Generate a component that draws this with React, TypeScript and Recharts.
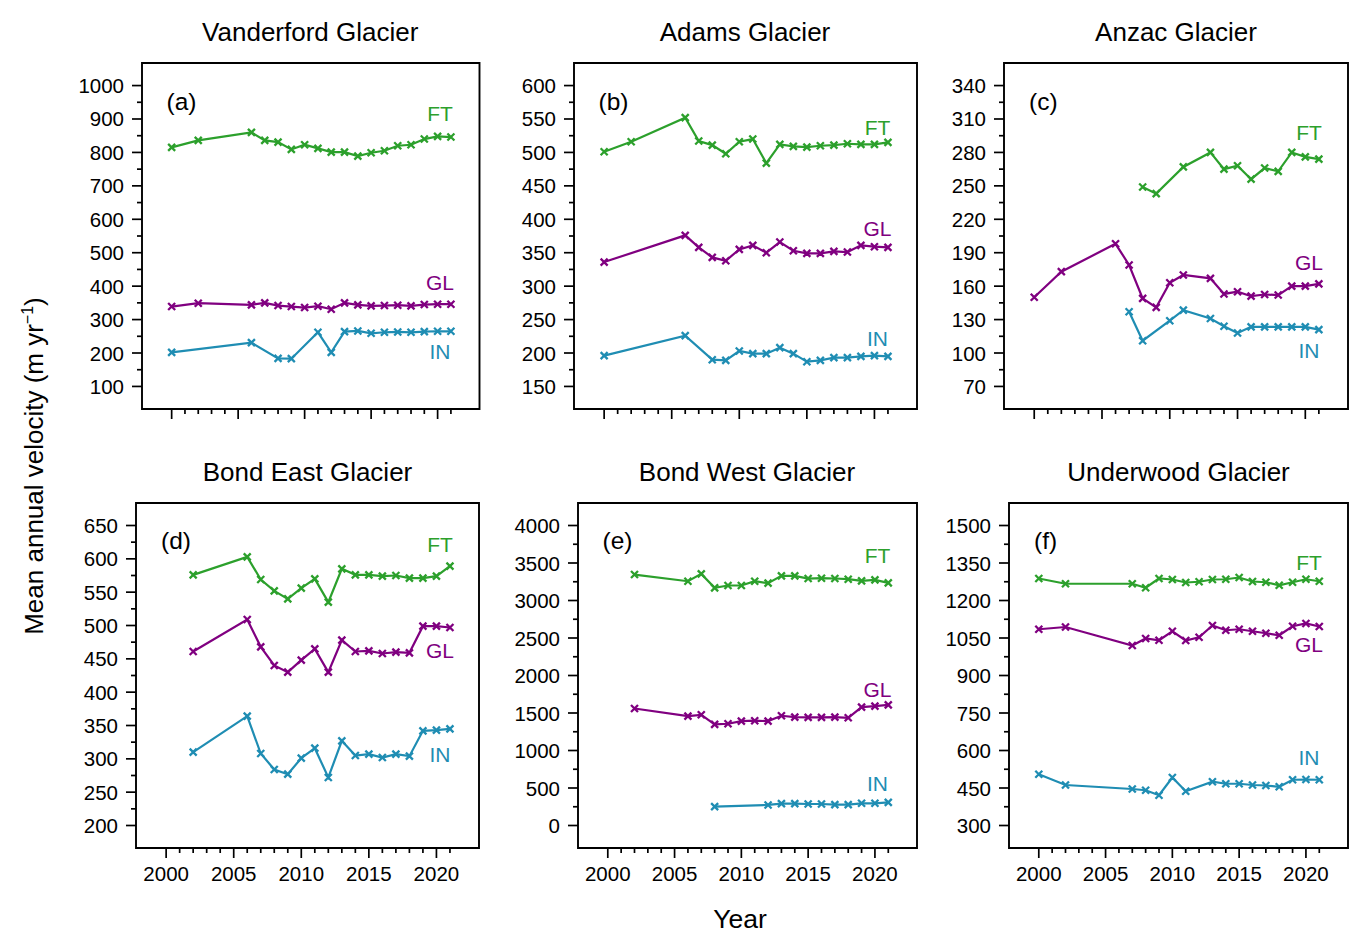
import React from 'react';
import { LineChart, Line, XAxis, YAxis, ReferenceArea } from 'recharts';

// ---------- DATA ----------
const YEARS = [2000, 2001, 2002, 2003, 2004, 2005, 2006, 2007, 2008, 2009, 2010, 2011, 2012, 2013, 2014, 2015, 2016, 2017, 2018, 2019, 2020, 2021];
const X_TICKS = [2000, 2001, 2002, 2003, 2004, 2005, 2006, 2007, 2008, 2009, 2010, 2011, 2012, 2013, 2014, 2015, 2016, 2017, 2018, 2019, 2020, 2021];
const X_MAJOR = [2000, 2005, 2010, 2015, 2020];
const X_DOMAIN = [1997.77, 2023.15];

// (a) Vanderford Glacier
const vanderfordFT = [815, null, 836, null, null, null, 860, 836, 831, 809, 823, 812, 801, 801, 789, 799, 805, 820, 823, 840, 848, 846];
const vanderfordGL = [339, null, 349, null, null, null, 344, 350, 342, 339, 336, 340, 331, 350, 344, 341, 342, 343, 341, 345, 346, 346];
const vanderfordIN = [202, null, null, null, null, null, 231, null, 184, 183, null, 262, 202, 264, 266, 259, 262, 263, 262, 264, 265, 265];
const vanderfordMajor = [100, 200, 300, 400, 500, 600, 700, 800, 900, 1000];
const vanderfordMinor = [150, 250, 350, 450, 550, 650, 750, 850, 950];

// (b) Adams Glacier
const adamsFT = [501, null, 516, null, null, null, 552, 517, 511, 498, 516, 520, 484, 512, 509, 508, 510, 511, 513, 512, 512, 515];
const adamsGL = [336, null, null, null, null, null, 376, 358, 343, 338, 355, 361, 350, 366, 353, 349, 349, 352, 351, 361, 359, 358];
const adamsIN = [196, null, null, null, null, null, 226, null, 190, 189, 203, 199, 199, 208, 199, 187, 189, 193, 193, 195, 196, 195];
const adamsMajor = [150, 200, 250, 300, 350, 400, 450, 500, 550, 600];
const adamsMinor = [175, 225, 275, 325, 375, 425, 475, 525, 575];

// (c) Anzac Glacier
const anzacFT = [null, null, null, null, null, null, null, null, 249, 243, null, 267, null, 280, 265, 268, 256, 266, 263, 280, 276, 274];
const anzacGL = [150, null, 173, null, null, null, 198, 179, 149, 141, 163, 170, null, 167, 153, 155, 151, 152.5, 152, 160, 160, 162];
const anzacIN = [null, null, null, null, null, null, null, 137, 111, null, 129, 138.5, null, 131, 124, 118, 123.5, 123.5, 123.5, 123.5, 123.5, 121];
const anzacMajor = [70, 100, 130, 160, 190, 220, 250, 280, 310, 340];
const anzacMinor = [85, 115, 145, 175, 205, 235, 265, 295, 325];

// (d) Bond East Glacier
const bondEastFT = [null, null, 576, null, null, null, 603, 569, 552, 540, 556, 570, 535, 585, 576, 576, 574, 575, 571, 571, 574, 589];
const bondEastGL = [null, null, 461, null, null, null, 509, 468, 440, 430, 448, 465, 430, 478, 461, 462, 458, 460, 459, 499, 499, 497];
const bondEastIN = [null, null, 310, null, null, null, 364, 308, 284, 277, 301, 316, 272, 327, 305, 307, 302, 307, 304, 342, 343, 345];
const bondEastMajor = [200, 250, 300, 350, 400, 450, 500, 550, 600, 650];
const bondEastMinor = [225, 275, 325, 375, 425, 475, 525, 575, 625];

// (e) Bond West Glacier
const bondWestFT = [null, null, 3346, null, null, null, 3257, 3355, 3169, 3200, 3200, 3257, 3231, 3328, 3328, 3293, 3297, 3293, 3284, 3262, 3275, 3235];
const bondWestGL = [null, null, 1560, null, null, null, 1459, 1476, 1348, 1357, 1392, 1397, 1392, 1463, 1445, 1441, 1441, 1445, 1436, 1578, 1591, 1609];
const bondWestIN = [null, null, null, null, null, null, null, null, 252, null, null, null, 274, 292, 292, 287, 287, 278, 278, 296, 296, 309];
const bondWestMajor = [0, 500, 1000, 1500, 2000, 2500, 3000, 3500, 4000];
const bondWestMinor = [250, 750, 1250, 1750, 2250, 2750, 3250, 3750];

// (f) Underwood Glacier
const underwoodFT = [1288, null, 1267, null, null, null, null, 1267, 1251, 1288, 1284, 1272, 1275, 1284, 1285, 1292, 1276, 1273, 1261, 1273, 1285, 1277];
const underwoodGL = [1085, null, 1094, null, null, null, null, 1020, 1048, 1041, 1077, 1040, 1053, 1100, 1081, 1085, 1077, 1069, 1061, 1097, 1108, 1096];
const underwoodIN = [505, null, 462, null, null, null, null, 446, 441, 421, 492, 437, null, 475, 467, 467, 462, 460, 455, 483, 484, 483];
const underwoodMajor = [300, 450, 600, 750, 900, 1050, 1200, 1350, 1500];
const underwoodMinor = [375, 525, 675, 825, 975, 1125, 1275, 1425];

const SERIES_NAMES = ['FT', 'GL', 'IN'];

// ---------- STYLE / LAYOUT ----------
const GREEN = '#2ca02c';
const PURPLE = '#800080';
const BLUE = '#1f8db3';
const COLORS = [GREEN, PURPLE, BLUE];
const FONT = '"Liberation Sans", Arial, Helvetica, sans-serif';
const TICK_FS = 20.5;

const Y_AXIS_W = 80;
const X_AXIS_H = 45;
const M_TOP = 10;
const M_RIGHT = 10;

type PanelDef = {
  title: string;
  letter: string;
  box: [number, number, number, number];
  yDomain: [number, number];
  yMajor: number[];
  yMinor: number[];
  series: (number | null)[][];
  labelY: number[];
  showX: boolean;
};

const PANELS: PanelDef[] = [
  { title: 'Vanderford Glacier', letter: '(a)', box: [141.5, 63, 479, 409], yDomain: [32.5, 1067.5], yMajor: vanderfordMajor, yMinor: vanderfordMinor, series: [vanderfordFT, vanderfordGL, vanderfordIN], labelY: [113, 282, 351], showX: false },
  { title: 'Adams Glacier', letter: '(b)', box: [573.5, 63, 916.5, 409], yDomain: [116.25, 633.75], yMajor: adamsMajor, yMinor: adamsMinor, series: [adamsFT, adamsGL, adamsIN], labelY: [127, 228, 338], showX: false },
  { title: 'Anzac Glacier', letter: '(c)', box: [1004, 63, 1348, 409], yDomain: [49.75, 360.25], yMajor: anzacMajor, yMinor: anzacMinor, series: [anzacFT, anzacGL, anzacIN], labelY: [132, 262, 350], showX: false },
  { title: 'Bond East Glacier', letter: '(d)', box: [136, 502.5, 479, 847.5], yDomain: [166.25, 683.75], yMajor: bondEastMajor, yMinor: bondEastMinor, series: [bondEastFT, bondEastGL, bondEastIN], labelY: [544, 650, 754], showX: true },
  { title: 'Bond West Glacier', letter: '(e)', box: [577.5, 502.5, 916.5, 847.5], yDomain: [-300, 4300], yMajor: bondWestMajor, yMinor: bondWestMinor, series: [bondWestFT, bondWestGL, bondWestIN], labelY: [555, 689, 783], showX: true },
  { title: 'Underwood Glacier', letter: '(f)', box: [1009, 502.5, 1348, 847.5], yDomain: [210, 1590], yMajor: underwoodMajor, yMinor: underwoodMinor, series: [underwoodFT, underwoodGL, underwoodIN], labelY: [562, 644, 757], showX: true },
];

const makeCross = (color: string) => (props: any) => {
  const { cx, cy, index } = props;
  if (cx == null || cy == null || Number.isNaN(cx) || Number.isNaN(cy)) return <g key={`n${index}`} />;
  const s = 3.5;
  return (
    <path
      key={`c${index}`}
      d={`M${cx - s},${cy - s}L${cx + s},${cy + s}M${cx - s},${cy + s}L${cx + s},${cy - s}`}
      stroke={color}
      strokeWidth={2.3}
      fill="none"
    />
  );
};

const renderYTick = (majors: number[]) => (props: any) => {
  const { x, y, payload } = props;
  const v = payload.value;
  const major = majors.includes(v);
  return (
    <g key={`yt${v}`}>
      <line x1={x - (major ? 10 : 5)} x2={x} y1={y} y2={y} stroke="#000" strokeWidth={1.7} />
      {major && (
        <text x={x - 18} y={y} textAnchor="end" dominantBaseline="central" fontSize={TICK_FS} fill="#000" fontFamily={FONT}>
          {v}
        </text>
      )}
    </g>
  );
};

const renderXTick = (showLabel: boolean) => (props: any) => {
  const { x, y, payload } = props;
  const v = payload.value;
  const major = X_MAJOR.includes(v);
  return (
    <g key={`xt${v}`}>
      <line x1={x} x2={x} y1={y} y2={y + (major ? 10 : 5)} stroke="#000" strokeWidth={1.7} />
      {major && showLabel && (
        <text x={x} y={y + 25.5} textAnchor="middle" dominantBaseline="central" fontSize={TICK_FS} fill="#000" fontFamily={FONT}>
          {v}
        </text>
      )}
    </g>
  );
};

const Panel = ({ p }: { p: PanelDef }) => {
  const [L, T, R, B] = p.box;
  const w = Y_AXIS_W + (R - L) + M_RIGHT;
  const h = M_TOP + (B - T) + X_AXIS_H;
  const data = YEARS.map((year, i) => ({
    year,
    FT: p.series[0][i],
    GL: p.series[1][i],
    IN: p.series[2][i],
  }));
  const yTicks = [...p.yMajor, ...p.yMinor].sort((a, b) => a - b);
  return (
    <div style={{ position: 'absolute', left: L - Y_AXIS_W, top: T - M_TOP }}>
      <LineChart width={w} height={h} data={data} margin={{ top: M_TOP, right: M_RIGHT, bottom: 0, left: 0 }}>
        <XAxis
          type="number"
          dataKey="year"
          domain={X_DOMAIN}
          allowDataOverflow
          ticks={X_TICKS}
          interval={0}
          tickLine={false}
          axisLine={false}
          tickSize={0}
          tickMargin={0}
          height={X_AXIS_H}
          tick={renderXTick(p.showX)}
        />
        <YAxis
          type="number"
          domain={p.yDomain}
          allowDataOverflow
          ticks={yTicks}
          interval={0}
          tickLine={false}
          axisLine={false}
          tickSize={0}
          tickMargin={0}
          width={Y_AXIS_W}
          tick={renderYTick(p.yMajor)}
        />
        <ReferenceArea
          x1={X_DOMAIN[0]}
          x2={X_DOMAIN[1]}
          y1={p.yDomain[0]}
          y2={p.yDomain[1]}
          fill="none"
          fillOpacity={0}
          stroke="#000"
          strokeWidth={1.9}
          ifOverflow="visible"
        />
        {SERIES_NAMES.map((name, k) => (
          <Line
            key={name}
            type="linear"
            dataKey={name}
            stroke={COLORS[k]}
            strokeWidth={2.2}
            connectNulls
            isAnimationActive={false}
            dot={makeCross(COLORS[k])}
            activeDot={false}
          />
        ))}
      </LineChart>
    </div>
  );
};

export default function App() {
  return (
    <div style={{ position: 'absolute', left: 0, top: 0, width: 1370, height: 946, background: '#fff', fontFamily: FONT, overflow: 'hidden' }}>
      {PANELS.map((p) => (
        <Panel key={p.letter} p={p} />
      ))}
      <svg width={1370} height={946} style={{ position: 'absolute', left: 0, top: 0, pointerEvents: 'none' }} fontFamily={FONT}>
        {PANELS.map((p) => {
          const [L, T, R] = p.box;
          const cx = (L + R) / 2;
          return (
            <g key={`t${p.letter}`}>
              <text x={cx} y={T - 22} textAnchor="middle" fontSize={26} fill="#000">{p.title}</text>
              <text x={L + 25} y={T + 46.5} fontSize={24.5} fill="#000">{p.letter}</text>
              {SERIES_NAMES.map((name, k) => (
                <text key={name} x={R - 39} y={p.labelY[k] + 7.5} textAnchor="middle" fontSize={21} fill={COLORS[k]}>{name}</text>
              ))}
            </g>
          );
        })}
        <text x={740} y={927.5} textAnchor="middle" fontSize={26.5} fill="#000">Year</text>
        <text x={42.5} y={466} textAnchor="middle" fontSize={26} fill="#000" transform="rotate(-90 42.5 466)">
          Mean annual velocity (m yr<tspan fontSize={16} dy={-10}>−1</tspan><tspan dy={10}>)</tspan>
        </text>
      </svg>
    </div>
  );
}
